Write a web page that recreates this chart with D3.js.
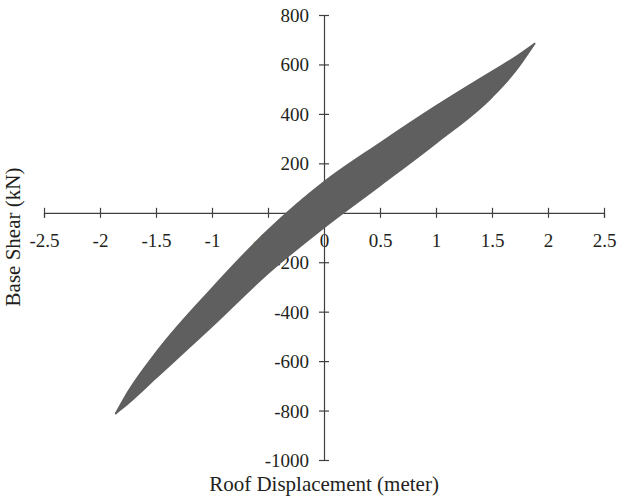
<!DOCTYPE html>
<html>
<head>
<meta charset="utf-8">
<script src="https://cdn.jsdelivr.net/npm/d3@7"></script>
<style>
  body { margin: 0; background: #fff; }
  svg text { font-family: "Liberation Serif", "DejaVu Serif", serif; fill: #231f20; }
</style>
</head>
<body>
<svg id="chart" width="632" height="498"></svg>
<script>
// roof displacement (m) where the loop branches were read
const disp = [-1.86, -1.75, -1.5, -1.0, -0.5, 0, 0.5, 1.0, 1.5, 1.7, 1.88];
// outer loop, upper branch (unloading) and lower branch (reloading), kN
const upperShear = [-812, -724, -565, -305, -70, 125, 282, 432, 572, 627, 684];
const lowerShear = [-812, -772, -668, -460, -245, -60, 110, 282, 468, 568, 684];

const xTicks = [-2.5, -2, -1.5, -1, -0.5, 0, 0.5, 1, 1.5, 2, 2.5];
const yTicks = [-1000, -800, -600, -400, -200, 0, 200, 400, 600, 800];

const svg = d3.select("#chart");
const x = d3.scaleLinear().domain([-2.5, 2.5]).range([44, 604]);
const y = d3.scaleLinear().domain([-1000, 800]).range([460, 15]);
const ink = "#404040";
const band = "#5f5f5f";

// x axis through y = 0
const xAxis = svg.append("g")
  .attr("transform", `translate(0,${y(0)})`)
  .call(d3.axisBottom(x).tickValues(xTicks).tickSizeOuter(0).tickSize(5).tickFormat(d => String(d)));
xAxis.selectAll(".tick line").attr("y1", -5).attr("y2", 5).attr("stroke", ink).attr("stroke-width", 1.2);
xAxis.select(".domain").attr("stroke", ink).attr("stroke-width", 1.2);
xAxis.selectAll(".tick text").attr("y", 21).attr("dy", "0.71em").style("font-size", "19px");

// y axis through x = 0
const yAxis = svg.append("g")
  .attr("transform", `translate(${x(0)},0)`)
  .call(d3.axisLeft(y).tickValues(yTicks).tickSizeOuter(0).tickSize(5).tickFormat(d => String(d)));
yAxis.selectAll(".tick line").attr("x1", -5).attr("x2", 5).attr("stroke", ink).attr("stroke-width", 1.2);
yAxis.select(".domain").attr("stroke", ink).attr("stroke-width", 1.2);
yAxis.selectAll(".tick text").attr("x", -15).attr("dy", "0.34em").style("font-size", "19px");

// hysteresis loop: area between the two branches, then each branch as a line
const pts = disp.map((d, i) => ({d: d, up: upperShear[i], lo: lowerShear[i]}));
const area = d3.area()
  .x(p => x(p.d))
  .y0(p => y(p.lo))
  .y1(p => y(p.up))
  .curve(d3.curveMonotoneX);
svg.append("path")
  .attr("d", area(pts))
  .attr("fill", band);

const branch = key => d3.line()
  .x(p => x(p.d))
  .y(p => y(p[key]))
  .curve(d3.curveMonotoneX);
["up", "lo"].forEach(k => {
  svg.append("path")
    .attr("d", branch(k)(pts))
    .attr("fill", "none")
    .attr("stroke", band)
    .attr("stroke-width", 1.6)
    .attr("stroke-linecap", "round");
});

// axis titles
svg.append("text")
  .attr("x", 324).attr("y", 491)
  .attr("text-anchor", "middle")
  .style("font-size", "21px")
  .text("Roof Displacement (meter)");
svg.append("text")
  .attr("transform", "translate(20,237) rotate(-90)")
  .attr("text-anchor", "middle")
  .style("font-size", "21px")
  .text("Base Shear (kN)");
</script>
</body>
</html>
